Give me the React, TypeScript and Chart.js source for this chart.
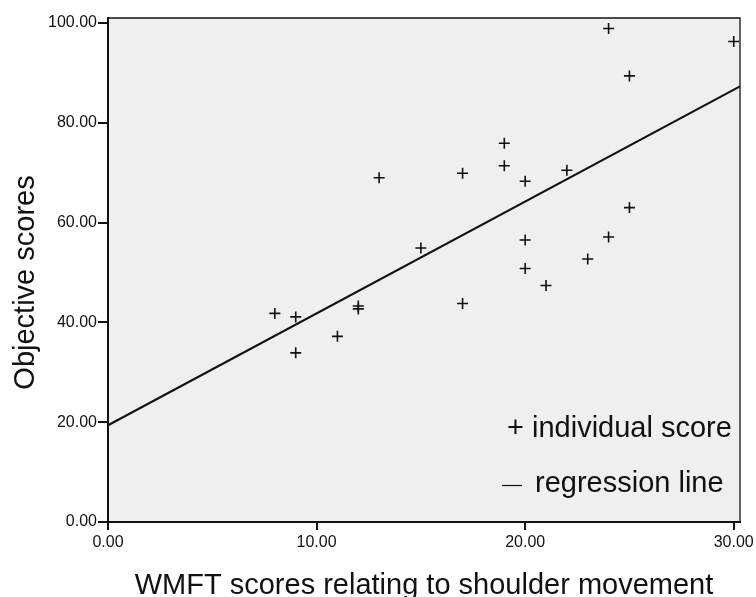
import React, { useEffect, useRef } from "react";
import { Chart, registerables } from "chart.js";

Chart.register(...registerables);

// WMFT shoulder score vs objective score
const WMFT = [24, 30, 25, 19, 19, 13, 17, 20, 22, 25, 15, 20, 24, 23, 20, 21, 17, 8, 9, 9, 11, 12, 12];
const OBJECTIVE = [98.9, 96.3, 89.4, 75.9, 71.4, 69.0, 69.9, 68.3, 70.5, 63.0, 54.9, 56.5, 57.1, 52.7, 50.8, 47.4, 43.8, 41.8, 41.1, 33.9, 37.2, 43.3, 42.7];
const REG_X = [0, 30.3];
const REG_Y = [19.4, 87.3];
const X_TICKS = [0, 10, 20, 30];
const Y_TICKS = [0, 20, 40, 60, 80, 100];
const X_TITLE = "WMFT scores relating to shoulder movement";
const Y_TITLE = "Objective scores";
const LEGEND_POINTS = "+ individual score";
const LEGEND_LINE = "regression line";

const FONT = "'Liberation Sans', Arial, sans-serif";

export default function App() {
  const ref = useRef<HTMLCanvasElement | null>(null);

  useEffect(() => {
    const canvas = ref.current;
    if (!canvas) return;

    const decor = {
      id: "decor",
      beforeDraw(chart: any) {
        const { ctx, chartArea: a } = chart;
        ctx.save();
        ctx.fillStyle = "#ffffff";
        ctx.fillRect(0, 0, chart.width, chart.height);
        ctx.fillStyle = "#efefef";
        ctx.fillRect(a.left, a.top, a.right - a.left, a.bottom - a.top);
        ctx.restore();
      },
      afterDraw(chart: any) {
        const { ctx, chartArea: a } = chart;
        ctx.save();
        ctx.strokeStyle = "#111";
        // top and right frame (thin)
        ctx.lineWidth = 1.3;
        ctx.beginPath();
        ctx.moveTo(a.left, a.top);
        ctx.lineTo(a.right, a.top);
        ctx.lineTo(a.right, a.bottom);
        ctx.stroke();
        // axis lines (thicker)
        ctx.lineWidth = 2;
        ctx.beginPath();
        ctx.moveTo(a.left, a.top - 1);
        ctx.lineTo(a.left, a.bottom);
        ctx.lineTo(a.right + 1, a.bottom);
        ctx.stroke();

        ctx.fillStyle = "#111";
        ctx.font = `29px ${FONT}`;
        ctx.textBaseline = "alphabetic";
        // x title
        ctx.textAlign = "center";
        ctx.fillText(X_TITLE, 424, 594);
        // y title
        ctx.save();
        ctx.translate(34, 282.5);
        ctx.rotate(-Math.PI / 2);
        ctx.fillText(Y_TITLE, 0, 0);
        ctx.restore();
        // legend
        ctx.textAlign = "left";
        ctx.fillText(LEGEND_POINTS, 507, 437);
        ctx.fillText(LEGEND_LINE, 535, 492);
        ctx.beginPath();
        ctx.lineWidth = 1.2;
        ctx.moveTo(502, 485.5);
        ctx.lineTo(522, 485.5);
        ctx.stroke();
        ctx.restore();
      },
    };

    const chart = new Chart(canvas, {
      type: "scatter",
      data: {
        datasets: [
          {
            label: "individual score",
            data: WMFT.map((x, i) => ({ x, y: OBJECTIVE[i] })),
            pointStyle: "cross",
            pointRadius: 5.5,
            pointBorderWidth: 1.6,
            borderColor: "#111",
            backgroundColor: "#111",
            showLine: false,
          },
          {
            label: "regression line",
            data: REG_X.map((x, i) => ({ x, y: REG_Y[i] })),
            showLine: true,
            pointRadius: 0,
            borderColor: "#111",
            borderWidth: 2.2,
            fill: false,
          },
        ],
      },
      options: {
        responsive: false,
        animation: false,
        layout: { padding: { top: 18, right: 16, left: 0, bottom: 0 } },
        plugins: {
          legend: { display: false },
          tooltip: { enabled: false },
          title: { display: false },
        },
        scales: {
          x: {
            type: "linear",
            min: 0,
            max: 30.3,
            border: { display: false },
            grid: {
              drawOnChartArea: false,
              drawTicks: true,
              tickLength: 8,
              color: "#111",
              lineWidth: 2,
            },
            ticks: {
              color: "#111",
              font: { family: FONT, size: 16 },
              padding: 3,
              maxRotation: 0,
              autoSkip: false,
              callback: (v: any) => Number(v).toFixed(2),
            },
            afterBuildTicks: (s: any) => {
              s.ticks = X_TICKS.map((value) => ({ value }));
            },
            afterFit: (s: any) => {
              s.height = 75;
              s.paddingLeft = 0;
              s.paddingRight = 0;
            },
          },
          y: {
            type: "linear",
            min: 0,
            max: 101,
            border: { display: false },
            grid: {
              drawOnChartArea: false,
              drawTicks: true,
              tickLength: 10,
              color: "#111",
              lineWidth: 2,
            },
            ticks: {
              color: "#111",
              font: { family: FONT, size: 16 },
              padding: 1,
              autoSkip: false,
              callback: (v: any) => Number(v).toFixed(2),
            },
            afterBuildTicks: (s: any) => {
              s.ticks = Y_TICKS.map((value) => ({ value }));
            },
            afterFit: (s: any) => {
              s.width = 108;
              s.paddingTop = 0;
              s.paddingBottom = 0;
            },
          },
        },
      },
      plugins: [decor],
    });

    return () => chart.destroy();
  }, []);

  return (
    <div style={{ position: "absolute", left: 0, top: 0, width: 756, height: 597 }}>
      <canvas ref={ref} width={756} height={597} style={{ display: "block" }} />
    </div>
  );
}
